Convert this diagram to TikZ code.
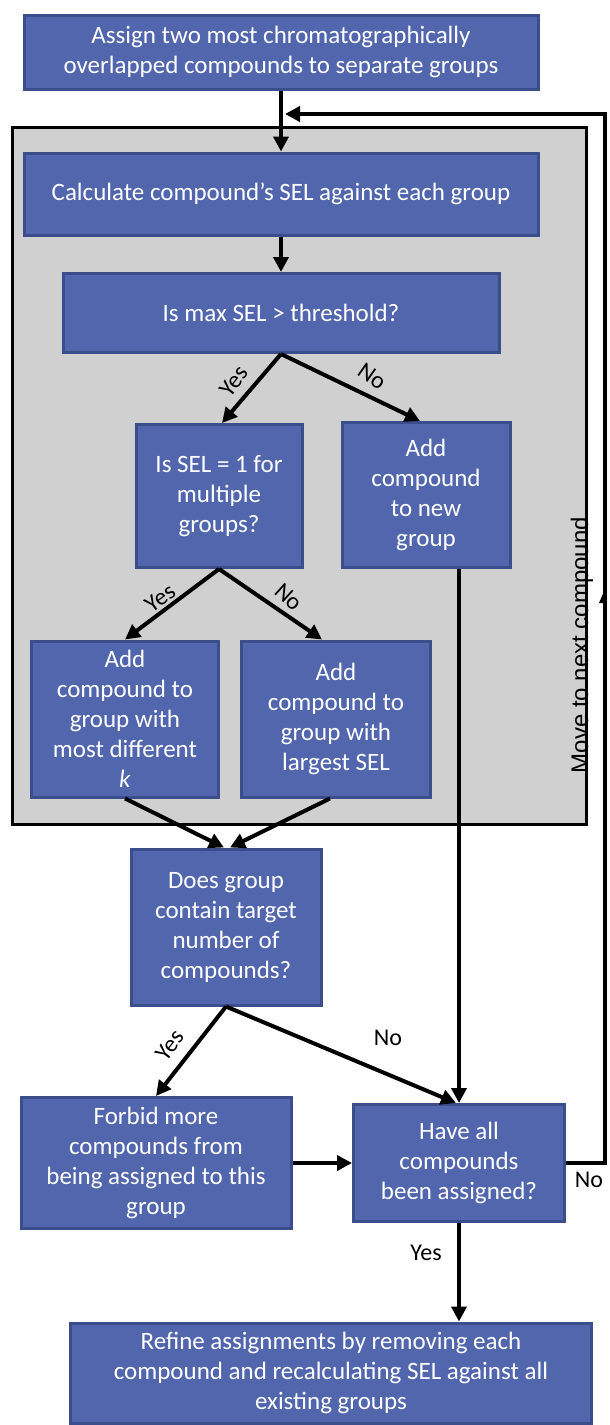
\documentclass[tikz,border=0pt]{standalone}
\usepackage{fontspec}
\setmainfont{Carlito}
\newfontfamily\arialfont{Liberation Sans}
\usetikzlibrary{arrows.meta}
\definecolor{boxfill}{HTML}{5166AD}
\definecolor{boxline}{HTML}{3B4D8A}
\definecolor{panel}{HTML}{D0D0D0}
\begin{document}
\begin{tikzpicture}[x=1pt,y=-1pt,
  blk/.style={draw=boxline, fill=boxfill, line width=3pt, text=white, align=center,
    font=\fontsize{25}{30}\selectfont, inner sep=0pt},
  arr/.style={line width=4pt, -{Triangle[length=15pt,width=15pt]}},
  lbl/.style={font=\fontsize{24}{26}\selectfont, inner sep=0pt}]
\useasboundingbox (0,0) rectangle (610,1425);
\fill[white] (0,0) rectangle (610,1425);
% panel
\draw[fill=panel, line width=3pt] (12,127) rectangle (586,824);
% boxes
\node[blk, minimum width=514pt, minimum height=74pt] (b1) at (281,52)
  {Assign two most chromatographically\\overlapped compounds to separate groups};
\node[blk, minimum width=514pt, minimum height=82pt] (b2) at (281,194)
  {Calculate compound’s SEL against each group};
\node[blk, minimum width=436pt, minimum height=79pt] (b3) at (281,313)
  {Is max SEL > threshold?};
\node[blk, minimum width=166pt, minimum height=143pt] (b4) at (219,496)
  {Is SEL = 1 for\\multiple\\groups?};
\node[blk, minimum width=168pt, minimum height=145pt] (b5) at (426,495)
  {Add\\compound\\to new\\group};
\node[blk, minimum width=187pt, minimum height=156pt] (b6) at (125,719)
  {Add\\compound to\\group with\\most different\\\textit{k}};
\node[blk, minimum width=189pt, minimum height=156pt] (b7) at (336,719)
  {Add\\compound to\\group with\\largest SEL};
\node[blk, minimum width=190pt, minimum height=156pt] (b8) at (226,927)
  {Does group\\contain target\\number of\\compounds?};
\node[blk, minimum width=270pt, minimum height=131pt] (b9) at (156,1163)
  {Forbid more\\compounds from\\being assigned to this\\group};
\node[blk, minimum width=211pt, minimum height=117pt] (b10) at (459,1163)
  {Have all\\compounds\\been assigned?};
\node[blk, minimum width=521pt, minimum height=100pt] (b11) at (331,1373)
  {Refine assignments by removing each\\compound and recalculating SEL against all\\existing groups};
% loop coordinates
\coordinate (c2) at (605,114);
\coordinate (c3) at (285,114);
% connectors
\draw[arr] (b1.south) -- (b2.north);
\draw[arr] (b2.south) -- (b3.north);
\draw[arr] (b3.south) -- ([xshift=3pt]b4.north);
\draw[arr] (b3.south) -- ([xshift=-6pt]b5.north);
\draw[arr] (b4.south) -- (b6.north);
\draw[arr] (b4.south) -- ([xshift=-14pt]b7.north);
\draw[arr] (b6.south) -- ([xshift=-2pt]b8.north);
\draw[arr] ([xshift=-6pt]b7.south) -- ([xshift=4pt]b8.north);
\draw[arr] (b8.south) -- (b9.north);
\draw[arr] (b8.south) -- ([xshift=-3pt]b10.north);
\draw[arr] (b10.north |- b5.south) -- (b10.north);
\draw[arr] (b9.east) -- (b10.west);
\draw[arr] (b10.east) -| (c2) -- (c3);
\draw[arr] (b10.south) -- (b10.south |- b11.north);
% small half arrowhead on the return line
\fill (599,603) -- (605,589) -- (605,603) -- cycle;
% labels
\node[lbl, rotate=52] (l1) at (234,381) {Yes};
\node[lbl, rotate=-35] (l2) at (372,376) {No};
\node[lbl, rotate=36] (l3) at (160,598) {Yes};
\node[lbl, rotate=-42] (l4) at (289,597) {No};
\node[lbl, rotate=52] (l5) at (170,1045) {Yes};
\node[lbl] (l6) at (388,1038) {No};
\node[lbl] (l7) at (589,1180) {No};
\node[lbl] (l8) at (426,1253) {Yes};
\node[lbl, rotate=90, font=\arialfont\fontsize{24}{26}\selectfont] (l9) at (582,645) {Move to next compound};
\end{tikzpicture}
\end{document}
